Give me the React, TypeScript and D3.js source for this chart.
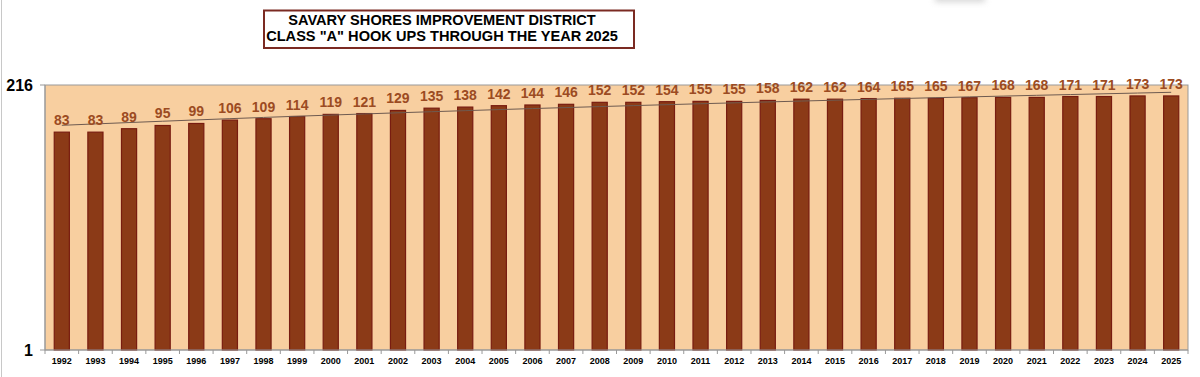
import React from "react";
import * as d3 from "d3";

const years = ["1992","1993","1994","1995","1996","1997","1998","1999","2000","2001","2002","2003","2004","2005","2006","2007","2008","2009","2010","2011","2012","2013","2014","2015","2016","2017","2018","2019","2020","2021","2022","2023","2024","2025"];
const hookups = [83,83,89,95,99,106,109,114,119,121,129,135,138,142,144,146,152,152,154,155,155,158,162,162,164,165,165,167,168,168,171,171,173,173];
const yTicks = [1, 216];
const titleLines = ["SAVARY SHORES IMPROVEMENT DISTRICT", "CLASS \"A\" HOOK UPS THROUGH THE YEAR 2025"];

const W = 1200, H = 377;
const plot = { left: 45, right: 1188, top: 85, bottom: 350 };
const font = "'Liberation Sans', Arial, sans-serif";

export default function App() {
  const x = d3.scaleBand<string>().domain(years).range([plot.left, plot.right]).paddingInner(0.55).paddingOuter(0.275);
  const y = d3.scaleLog().domain([1, 216]).range([plot.bottom, plot.top]);
  const step = x.step();

  // linear trend line
  const n = hookups.length;
  const idx = d3.range(n);
  const mx = d3.mean(idx)!, my = d3.mean(hookups)!;
  const slope = d3.sum(idx.map(i => (i - mx) * (hookups[i] - my))) / d3.sum(idx.map(i => (i - mx) ** 2));
  const icpt = my - slope * mx;
  const trend = d3.line<number>()
    .x(i => x(years[i])! + x.bandwidth() / 2)
    .y(i => y(icpt + slope * i))
    .curve(d3.curveLinear)(idx);

  return (
    <div style={{ position: "absolute", left: 0, top: 0 }}>
      <svg width={W} height={H} style={{ display: "block", fontFamily: font }}>
        <defs>
          <filter id="blur" x="-50%" y="-50%" width="200%" height="200%">
            <feGaussianBlur stdDeviation="3" />
          </filter>
        </defs>
        <rect x={0} y={0} width={W} height={H} fill="#fff" />
        <line x1={1.5} x2={1.5} y1={0} y2={H} stroke="#c8c8c8" strokeWidth={1} />
        <rect x={935} y={-10} width={50} height={12} fill="#bbb" filter="url(#blur)" opacity={0.6} />

        {/* title */}
        <rect x={264} y={10.5} width={370} height={37.5} fill="#fff" stroke="#7b2a22" strokeWidth={2} />
        {titleLines.map((t, i) => (
          <text key={i} x={442} y={25 + i * 16} textAnchor="middle" fontSize={14.6} fontWeight="bold" fill="#000">{t}</text>
        ))}

        {/* plot area */}
        <rect x={plot.left} y={plot.top} width={plot.right - plot.left} height={plot.bottom - plot.top} fill="#f8cfa0" stroke="#999" strokeWidth={1} />

        {/* bars */}
        {hookups.map((v, i) => (
          <rect key={years[i]} x={x(years[i])!} y={y(v)} width={x.bandwidth()} height={plot.bottom - y(v)}
            fill="#8b3a17" stroke="#781c10" strokeWidth={1.2} />
        ))}

        {/* trend */}
        <path d={trend || ""} fill="none" stroke="#6e5a50" strokeWidth={1} />

        {/* labels */}
        {hookups.map((v, i) => (
          <text key={"l" + years[i]} x={x(years[i])! + x.bandwidth() / 2} y={y(v) - 7} textAnchor="middle"
            fontSize={14} fontWeight="bold" fill="#9c4b22">{v}</text>
        ))}

        {/* y axis */}
        <line x1={plot.left} x2={plot.left} y1={plot.top} y2={plot.bottom} stroke="#999" />
        {yTicks.map(t => (
          <g key={t}>
            <line x1={plot.left - 5} x2={plot.left} y1={y(t)} y2={y(t)} stroke="#999" />
            <text x={33} y={y(t) + 6} textAnchor="end" fontSize={16} fontWeight="bold" fill="#000">{t}</text>
          </g>
        ))}

        {/* x axis */}
        <line x1={plot.left} x2={plot.right} y1={plot.bottom} y2={plot.bottom} stroke="#999" />
        {d3.range(n + 1).map(i => (
          <line key={"t" + i} x1={plot.left + i * step} x2={plot.left + i * step} y1={plot.bottom} y2={plot.bottom + 4} stroke="#999" />
        ))}
        {years.map(yr => (
          <text key={"x" + yr} x={x(yr)! + x.bandwidth() / 2} y={plot.bottom + 14} textAnchor="middle" fontSize={9} fontWeight="bold" fill="#000">{yr}</text>
        ))}
      </svg>
    </div>
  );
}
